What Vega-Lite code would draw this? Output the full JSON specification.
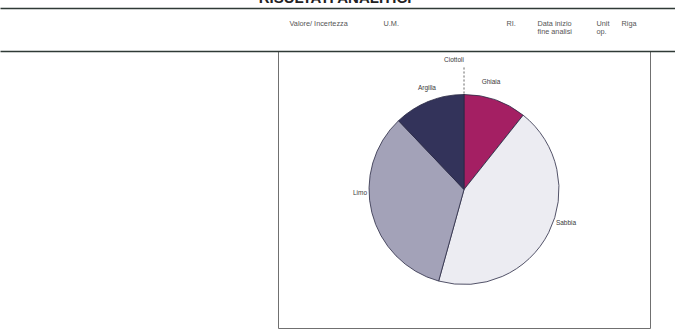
{
  "$schema": "https://vega.github.io/schema/vega-lite/v6.json",
  "background": "white",
  "autosize": {"type": "none"},
  "padding": {"top": 51, "left": 278, "right": 25, "bottom": 1},
  "width": 372,
  "height": 277,
  "config": {"font": "Liberation Sans"},
  "view": {"stroke": "#707070", "strokeWidth": 1},
  "title": {
    "text": "RISULTATI ANALITICI",
    "frame": "group",
    "anchor": "middle",
    "dx": -129,
    "baseline": "alphabetic",
    "offset": -10,
    "fontSize": 15,
    "fontWeight": "bold",
    "color": "#222222",
    "font": "Liberation Sans"
  },
  "data": {
    "values": [
      {"soil": "Ciottoli", "pct": 0, "n": 1},
      {"soil": "Ghiaia", "pct": 10.7, "n": 2},
      {"soil": "Sabbia", "pct": 43.6, "n": 3},
      {"soil": "Limo", "pct": 33.6, "n": 4},
      {"soil": "Argilla", "pct": 12.1, "n": 5}
    ]
  },
  "layer": [
    {
      "mark": {"type": "rule", "opacity": 0},
      "encoding": {
        "x": {
          "datum": 0,
          "type": "quantitative",
          "scale": {"domain": [0, 675], "range": [-278, 397], "nice": false, "zero": false},
          "axis": {
            "orient": "top",
            "offset": 43,
            "title": null,
            "values": [289, 383, 506, 537, 596, 621],
            "labelExpr": "datum.value == 289 ? 'Valore/ Incertezza' : datum.value == 383 ? 'U.M.' : datum.value == 506 ? 'RI.' : datum.value == 537 ? ['Data inizio', 'fine analisi'] : datum.value == 596 ? ['Unit', 'op.'] : 'Riga'",
            "domainColor": "#2f3a36",
            "domainWidth": 1.6,
            "ticks": false,
            "tickSize": 0,
            "grid": false,
            "labelPadding": -11,
            "labelBaseline": "top",
            "labelAlign": "left",
            "labelFontSize": 7.3,
            "labelColor": "#555555",
            "labelFont": "Liberation Sans",
            "labelOverlap": false,
            "labelFlush": false,
            "labelBound": false,
            "labelLineHeight": 8
          }
        }
      }
    },
    {
      "mark": {"type": "rule", "opacity": 0},
      "encoding": {
        "x": {
          "datum": 0,
          "type": "quantitative",
          "axis": {
            "orient": "top",
            "offset": 0,
            "title": null,
            "labels": false,
            "ticks": false,
            "grid": false,
            "domainColor": "#2f3a36",
            "domainWidth": 1.6
          }
        }
      }
    },
    {
      "mark": {"type": "arc", "radius": 95, "stroke": "#2a2a44", "strokeWidth": 0.8},
      "encoding": {
        "theta": {"field": "pct", "type": "quantitative", "stack": true},
        "order": {"field": "n", "type": "quantitative"},
        "color": {
          "field": "soil",
          "type": "nominal",
          "scale": {
            "domain": ["Ciottoli", "Ghiaia", "Sabbia", "Limo", "Argilla"],
            "range": ["#cccccc", "#a41f63", "#ececf2", "#a3a2b8", "#33335a"]
          },
          "legend": null
        }
      }
    },
    {
      "mark": {"type": "arc", "radius": 122, "radius2": 95, "filled": false, "color": "#8a8a8a", "strokeWidth": 0.8, "strokeDash": [2, 2]},
      "encoding": {
        "theta": {"field": "pct", "type": "quantitative", "stack": true},
        "order": {"field": "n", "type": "quantitative"},
        "opacity": {"condition": {"test": "datum.soil == 'Ciottoli'", "value": 1}, "value": 0}
      }
    },
    {
      "mark": {"type": "text", "radius": 130, "dx": -10, "fontSize": 6.5, "fill": "#3a3a3a"},
      "encoding": {
        "theta": {"field": "pct", "type": "quantitative", "stack": true},
        "order": {"field": "n", "type": "quantitative"},
        "text": {"field": "soil"},
        "opacity": {"condition": {"test": "datum.soil == 'Ciottoli'", "value": 1}, "value": 0}
      }
    },
    {
      "mark": {"type": "text", "radius": 108, "dx": -8.6, "dy": -5.5, "fontSize": 6.5, "fill": "#3a3a3a"},
      "encoding": {
        "theta": {"field": "pct", "type": "quantitative", "stack": true},
        "order": {"field": "n", "type": "quantitative"},
        "text": {"field": "soil"},
        "opacity": {"condition": {"test": "datum.soil == 'Ghiaia'", "value": 1}, "value": 0}
      }
    },
    {
      "mark": {"type": "text", "radius": 108, "dx": 5.8, "dy": -15.5, "fontSize": 6.5, "fill": "#3a3a3a"},
      "encoding": {
        "theta": {"field": "pct", "type": "quantitative", "stack": true},
        "order": {"field": "n", "type": "quantitative"},
        "text": {"field": "soil"},
        "opacity": {"condition": {"test": "datum.soil == 'Sabbia'", "value": 1}, "value": 0}
      }
    },
    {
      "mark": {"type": "text", "radius": 108, "dx": 0.8, "dy": -22.7, "fontSize": 6.5, "fill": "#3a3a3a"},
      "encoding": {
        "theta": {"field": "pct", "type": "quantitative", "stack": true},
        "order": {"field": "n", "type": "quantitative"},
        "text": {"field": "soil"},
        "opacity": {"condition": {"test": "datum.soil == 'Limo'", "value": 1}, "value": 0}
      }
    },
    {
      "mark": {"type": "text", "radius": 108, "dx": 3, "dy": -1, "fontSize": 6.5, "fill": "#3a3a3a"},
      "encoding": {
        "theta": {"field": "pct", "type": "quantitative", "stack": true},
        "order": {"field": "n", "type": "quantitative"},
        "text": {"field": "soil"},
        "opacity": {"condition": {"test": "datum.soil == 'Argilla'", "value": 1}, "value": 0}
      }
    }
  ],
  "resolve": {"axis": {"x": "independent"}}
}
